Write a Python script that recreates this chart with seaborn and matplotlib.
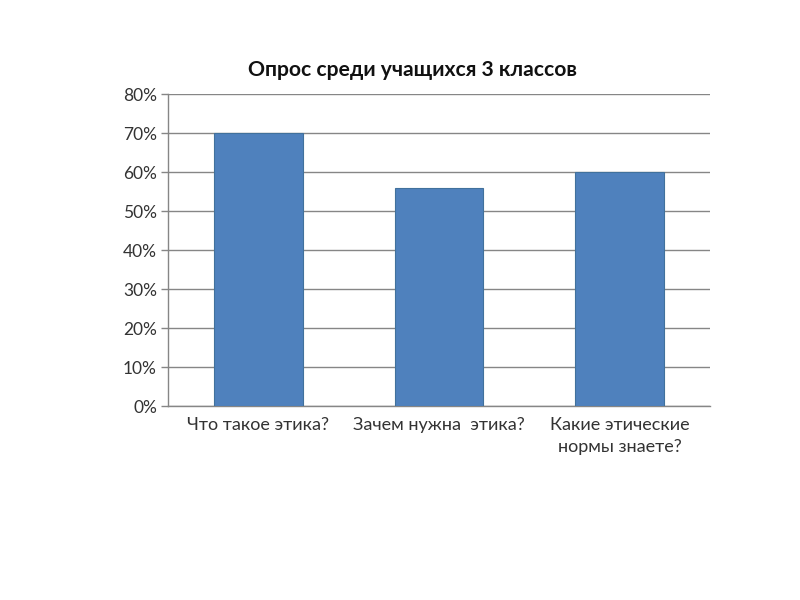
import matplotlib
matplotlib.use("Agg")
import matplotlib.pyplot as plt
import seaborn as sns
import pandas as pd
from matplotlib.ticker import FixedLocator

# survey answers, share of pupils
questions = ["Что такое этика?", "Зачем нужна  этика?", "Какие этические\nнормы знаете?"]
shares = [0.70, 0.56, 0.60]
yticks = [0, 0.1, 0.2, 0.3, 0.4, 0.5, 0.6, 0.7, 0.8]
ytick_labels = ["0%", "10%", "20%", "30%", "40%", "50%", "60%", "70%", "80%"]

df = pd.DataFrame({"question": questions, "share": shares})

sns.set_style("white")
plt.rcParams["font.family"] = ["Lato", "DejaVu Sans"]

fig = plt.figure(figsize=(8, 6), dpi=100)
ax = fig.add_axes([0.21, 0.3233, 0.6775, 0.52])

sns.barplot(data=df, x="question", y="share", color="#4F81BD",
            edgecolor="#41719C", linewidth=0.8, width=0.49, saturation=1, ax=ax, zorder=3)

ax.set_ylim(0, 0.8)
ax.set_xlim(-0.5, 2.5)
ax.set_yticks(yticks)
ax.set_yticklabels(ytick_labels)
ax.yaxis.grid(True, color="#868686", linewidth=1)
ax.set_axisbelow(True)

# category boundary ticks like an office chart
ax.xaxis.set_minor_locator(FixedLocator([-0.5, 0.5, 1.5, 2.5]))
ax.tick_params(axis="x", which="major", length=0, labelsize=13, colors="#333333", pad=8)
ax.tick_params(axis="x", which="minor", length=5, color="#868686", width=1)
ax.tick_params(axis="y", which="major", length=5, color="#868686", width=1,
               labelsize=12.5, labelcolor="#333333", left=True, pad=3)
for lbl in ax.get_xticklabels():
    lbl.set_linespacing(1.45)

for s in ["top", "right"]:
    ax.spines[s].set_visible(False)
for s in ["left", "bottom"]:
    ax.spines[s].set_color("#868686")
    ax.spines[s].set_linewidth(1)

ax.set_xlabel("")
ax.set_ylabel("")
fig.text(0.516, 0.883, "Опрос среди учащихся 3 классов", ha="center", va="center",
         fontsize=15.2, fontweight="bold", color="#111111")

fig.savefig("out.png", dpi=100)
